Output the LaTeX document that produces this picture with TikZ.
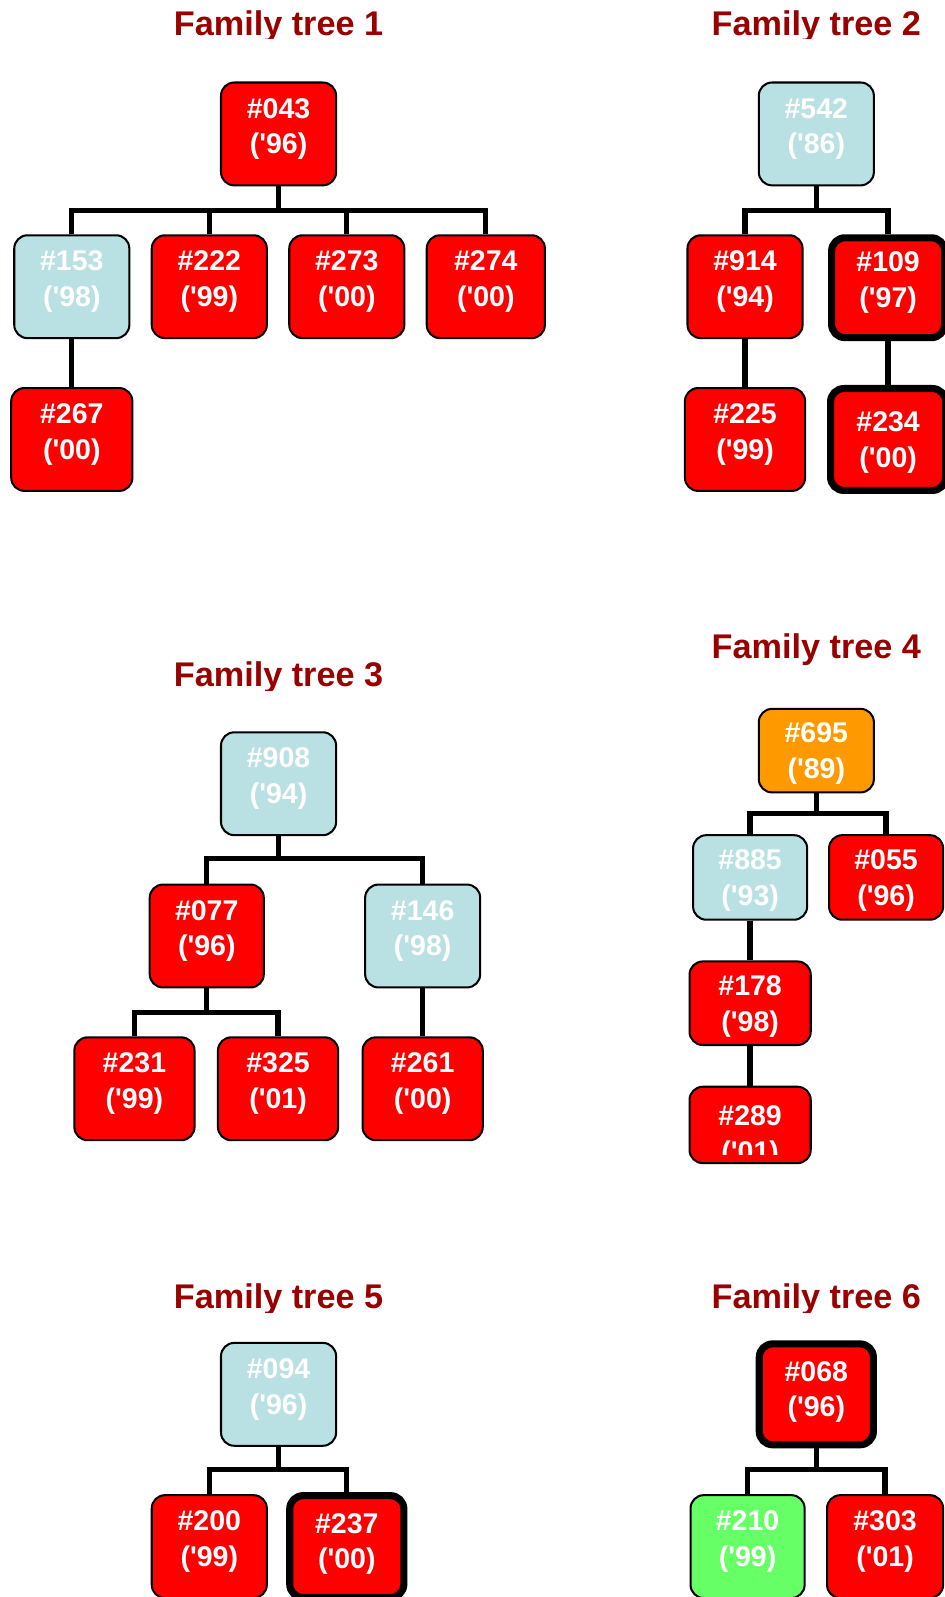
\documentclass[tikz,border=0pt]{standalone}
\usepackage{fontspec}
\setmainfont{Liberation Sans}
\definecolor{boxred}{HTML}{FF0000}
\definecolor{boxblue}{HTML}{B9E0E3}
\definecolor{boxorange}{HTML}{FF9900}
\definecolor{boxgreen}{HTML}{66FF66}
\definecolor{titlered}{HTML}{990000}
\newcommand\yq{\textquotesingle}
\tikzset{
  famshape/.style={rectangle, rounded corners=6.5pt, draw=black, line width=1pt, inner sep=0pt,
                   minimum width=56.5pt, minimum height=50.5pt},
  thickb/.style={line width=3.5pt},
  famtext/.style={text=white, font=\fontsize{14}{17.5}\selectfont\bfseries, align=center, inner sep=0pt},
  famtitle/.style={text=titlered, font=\fontsize{16.8}{20}\selectfont\bfseries, anchor=base, inner sep=0pt},
  conn/.style={line width=2.6pt, line join=miter, line cap=butt}
}
\newcommand\famnode[5][2.5pt]{%
  \node[famshape,#4] (#2) at (#3) {};
  \node[famtext] (#2t) at ([yshift=#1]#2.center) {#5};}
\begin{document}
\begin{tikzpicture}[x=0.5pt,y=-0.5pt]
\useasboundingbox (0,0) rectangle (927,1568);

% ---------------- Titles ----------------
\begin{scope}
  \clip (100,0) rectangle (450,38);
  \node[famtitle] (t1) at (273.5,34.5) {Family tree 1};
\end{scope}
\begin{scope}
  \clip (620,0) rectangle (927,38);
  \node[famtitle] (t2) at (801.5,34.5) {Family tree 2};
\end{scope}
\begin{scope}
  \clip (100,630) rectangle (450,678);
  \node[famtitle] (t3) at (273.5,674) {Family tree 3};
\end{scope}
\node[famtitle] (t4) at (801.5,647) {Family tree 4};
\begin{scope}
  \clip (100,1240) rectangle (450,1289);
  \node[famtitle] (t5) at (273.5,1285) {Family tree 5};
\end{scope}
\begin{scope}
  \clip (620,1240) rectangle (927,1289);
  \node[famtitle] (t6) at (801.5,1285) {Family tree 6};
\end{scope}

% ---------------- Tree 1 ----------------
\famnode{r1}{273.5,131.5}{fill=boxred}{\#043\\(\yq96)}
\famnode{a1}{70.5,281.5}{fill=boxblue}{\#153\\(\yq98)}
\famnode{b1}{205.5,281.5}{fill=boxred}{\#222\\(\yq99)}
\famnode{c1}{340.5,281.5}{fill=boxred}{\#273\\(\yq00)}
\famnode{d1}{477,281.5}{fill=boxred,minimum width=58pt}{\#274\\(\yq00)}
\famnode{e1}{70.5,431.5}{fill=boxred,minimum width=59.5pt}{\#267\\(\yq00)}
\coordinate (j1) at (273.5,207);
\draw[conn] (r1.south) -- (j1);
\draw[conn] (a1.north) |- (j1) -| (d1.north);
\draw[conn] (b1.north) -- (b1.north |- j1);
\draw[conn] (c1.north) -- (c1.north |- j1);
\draw[conn] (a1.south) -- (e1.north);

% ---------------- Tree 2 ----------------
\famnode{r2}{801.5,131.5}{fill=boxblue}{\#542\\(\yq86)}
\famnode{a2}{731.5,281.5}{fill=boxred}{\#914\\(\yq94)}
\famnode{b2}{872,282.5}{fill=boxred,thickb,minimum width=55.5pt,minimum height=49pt}{\#109\\(\yq97)}
\famnode{c2}{731.5,431.5}{fill=boxred,minimum width=59pt}{\#225\\(\yq99)}
\famnode[-1.5pt]{d2}{872,431.5}{fill=boxred,thickb,minimum width=56.5pt,minimum height=50pt}{\#234\\(\yq00)}
\coordinate (j2) at (801.5,207);
\draw[conn] (r2.south) -- (j2);
\draw[conn] (a2.north) |- (j2) -| (b2.north);
\draw[conn] (a2.south) -- (c2.north);
\draw[conn] (b2.south) -- (d2.north);

% ---------------- Tree 3 ----------------
\famnode{r3}{273.5,769.5}{fill=boxblue}{\#908\\(\yq94)}
\famnode{a3}{203,919}{fill=boxred,minimum width=56pt}{\#077\\(\yq96)}
\famnode{b3}{415,919}{fill=boxblue}{\#146\\(\yq98)}
\famnode{c3}{132,1069}{fill=boxred,minimum width=59pt}{\#231\\(\yq99)}
\famnode{d3}{273,1069}{fill=boxred,minimum width=59pt}{\#325\\(\yq01)}
\famnode{e3}{415,1069}{fill=boxred,minimum width=59pt}{\#261\\(\yq00)}
\coordinate (j3) at (273.5,843);
\coordinate (j3b) at (203,994);
\draw[conn] (r3.south) -- (j3);
\draw[conn] (a3.north) |- (j3) -| (b3.north);
\draw[conn] (a3.south) -- (j3b);
\draw[conn] (c3.north) |- (j3b) -| (d3.north);
\draw[conn] (b3.south) -- (e3.north);

% ---------------- Tree 4 ----------------
\famnode[-1.5pt]{r4}{801.5,737}{fill=boxorange,minimum height=41pt}{\#695\\(\yq89)}
\famnode[-1.5pt]{a4}{736.5,861.5}{fill=boxblue,minimum width=56pt,minimum height=41.5pt}{\#885\\(\yq93)}
\famnode[-1.5pt]{b4}{870,861.5}{fill=boxred,minimum width=56pt,minimum height=41.5pt}{\#055\\(\yq96)}
\famnode[-1.5pt]{c4}{736.5,985}{fill=boxred,minimum width=59.5pt,minimum height=41pt}{\#178\\(\yq98)}
\node[famshape,fill=boxred,minimum width=59.5pt,minimum height=37.5pt] (d4) at (736.5,1104.5) {};
\begin{scope}
  \clip (676,1066) rectangle (797,1134);
  \node[famtext] (d4t) at (736.5,1116) {\#289\\(\yq01)};
\end{scope}
\coordinate (j4) at (801.5,799);
\draw[conn] (r4.south) -- (j4);
\draw[conn] (a4.north) |- (j4) -| (b4.north);
\draw[conn] (a4.south) -- (c4.north);
\draw[conn] (c4.south) -- (d4.north);

% ---------------- Tree 5 ----------------
\famnode{r5}{273.5,1369}{fill=boxblue}{\#094\\(\yq96)}
\famnode{a5}{205.5,1518.5}{fill=boxred}{\#200\\(\yq99)}
\famnode[1.2pt]{b5}{340.5,1518.5}{fill=boxred,thickb,minimum width=56pt,minimum height=50pt}{\#237\\(\yq00)}
\coordinate (j5) at (273.5,1443);
\draw[conn] (r5.south) -- (j5);
\draw[conn] (a5.north) |- (j5) -| (b5.north);

% ---------------- Tree 6 ----------------
\famnode[1.2pt]{r6}{801.5,1369}{fill=boxred,thickb,minimum width=56pt,minimum height=49.5pt}{\#068\\(\yq96)}
\famnode{a6}{734,1518.5}{fill=boxgreen,minimum width=56pt}{\#210\\(\yq99)}
\famnode{b6}{869,1518.5}{fill=boxred,minimum width=57pt}{\#303\\(\yq01)}
\coordinate (j6) at (801.5,1443);
\draw[conn] (r6.south) -- (j6);
\draw[conn] (a6.north) |- (j6) -| (b6.north);

\end{tikzpicture}
\end{document}
